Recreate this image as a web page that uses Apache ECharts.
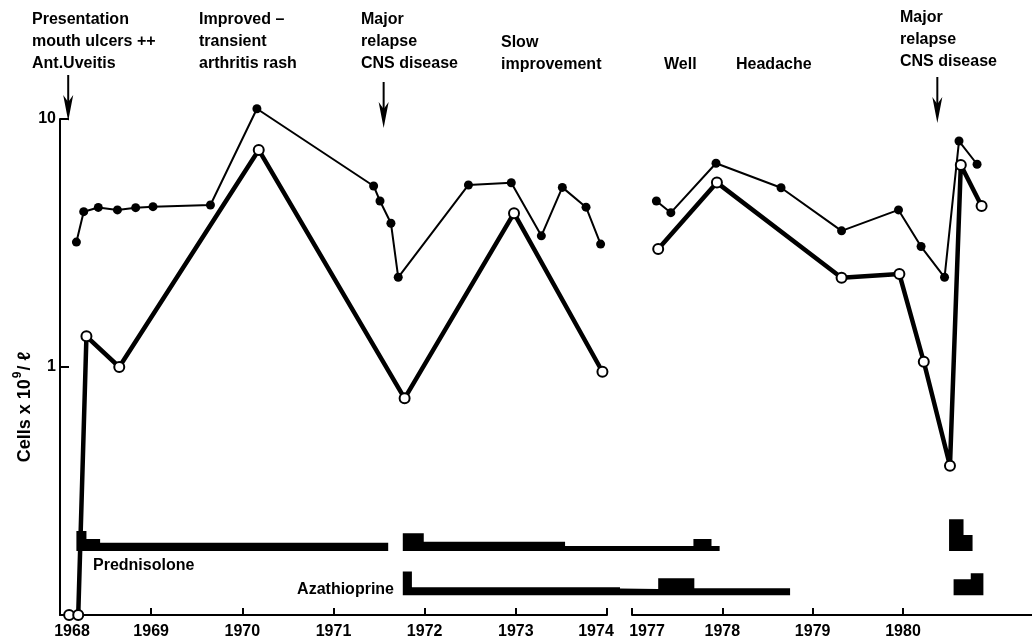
<!DOCTYPE html>
<html><head><meta charset="utf-8">
<script src="https://cdn.jsdelivr.net/npm/echarts@6/dist/echarts.min.js"></script>
<style>html,body{margin:0;padding:0;background:#fff}#c{width:1032px;height:640px}</style>
</head><body><div id="c"></div>
<script>
// ---------- data ----------
const yearLabelsEarly = [1968, 1969, 1970, 1971, 1972, 1973, 1974];
const yearTicksEarly = [1969, 1970, 1971, 1972, 1973, 1974];
const yearLabelsLate = [1977, 1978, 1979, 1980];
const yTickLabels = [1, 10];

// filled circles, thin line (cells x 10^9 / l)
const filledEarly = [[1968.18,3.19],[1968.26,4.23],[1968.42,4.40],[1968.63,4.30],[1968.83,4.39],[1969.02,4.43],[1969.65,4.50],[1970.16,11.0],[1971.44,5.37],[1971.51,4.67],[1971.63,3.80],[1971.71,2.30],[1972.48,5.42],[1972.95,5.53],[1973.28,3.38],[1973.51,5.30],[1973.77,4.41],[1973.93,3.13]];
const filledLate = [[1977.27,4.67],[1977.43,4.19],[1977.93,6.63],[1978.65,5.28],[1979.32,3.54],[1979.95,4.30],[1980.20,3.06],[1980.46,2.30],[1980.62,8.15],[1980.82,6.57]];
// open circles, thick line
const openEarly = [[1968.10,0.1],[1968.20,0.1],[1968.29,1.33],[1968.65,1.00],[1970.18,7.50],[1971.78,0.748],[1972.98,4.17],[1973.95,0.957]];
const openLate = [[1977.29,2.99],[1977.94,5.54],[1979.32,2.29],[1979.96,2.37],[1980.23,1.05],[1980.52,0.40],[1980.64,6.52],[1980.87,4.46]];

// treatment doses (relative units), step profiles
const prednisolone = [[1968.18,20],[1968.29,12],[1968.44,8.3],[1971.60,0],[1971.76,17.7],[1971.99,9.3],[1973.54,5],[1977.68,12],[1977.88,5],[1977.97,0],[1980.51,31.7],[1980.67,16],[1980.77,0]];
const azathioprine = [[1971.76,24],[1971.86,8.3],[1975.5,6.5],[1977.29,17.2],[1977.69,7.2],[1978.75,0],[1980.56,16.2],[1980.75,22.2],[1980.89,0]];

// clinical events
const eventTexts = [
  'Presentation\nmouth ulcers ++\nAnt.Uveitis',
  'Improved \u2013\ntransient\narthritis rash',
  'Major\nrelapse\nCNS disease',
  'Slow\nimprovement',
  'Well',
  'Headache',
  'Major\nrelapse\nCNS disease'
];
const arrowDates = [[1968.09, 0], [1971.55, 0], [1980.38, 1]]; // [year, axis segment]

// ---------- layout ----------
const FONT = '"Liberation Sans", Arial, Helvetica, sans-serif';
const W = 1032, H = 640;
const plotTop = 119, plotBottom = 615;
const earlyLeft = 60, earlyRight = 607;
const lateLeft = 632, lateTickPx = 271; // 1977 -> 1980 spans 271 px
const gapMid = 620;
const pxYearEarly = (earlyRight - earlyLeft) / 6;
const pxYearLate = lateTickPx / 3;
const lateMax = 1977 + (W - lateLeft) / pxYearLate;
const laneEarlyMax = 1968 + (gapMid - earlyLeft) / pxYearEarly;
const laneLateMin = 1977 - (lateLeft - gapMid) / pxYearLate;
const laneH = 40;
const prednBase = 551, azaBase = 595.5;

const labelFont = {fontFamily: FONT, fontWeight: 'bold', fontSize: 16, color: '#000'};
// edge labels are nudged away from the axis break / y axis
const labelShift = {1968: [0, 0, 0, 24], 1974: [0, 22, 0, 0], 1977: [0, 0, 0, 30]};

function mainX(gridIndex, min, max, labels, ticks) {
  const rich = {};
  Object.keys(labelShift).forEach(k => { rich['p' + k] = Object.assign({padding: labelShift[k]}, labelFont); });
  return {
    type: 'value', gridIndex, min, max,
    axisLine: {show: true, onZero: false, lineStyle: {color: '#000', width: 2}},
    axisTick: {show: true, inside: true, length: 7, lineStyle: {color: '#000', width: 2}, customValues: ticks},
    axisLabel: Object.assign({margin: 9, customValues: labels,
      formatter: v => (labelShift[v] ? '{p' + v + '|' + v + '}' : String(v)),
      rich}, labelFont),
    splitLine: {show: false}
  };
}
function hiddenX(gridIndex, min, max) {
  return {type: 'value', gridIndex, min, max, show: false, splitLine: {show: false}};
}

const option = {
  animation: false,
  backgroundColor: '#fff',
  grid: [
    {left: earlyLeft, top: plotTop, width: earlyRight - earlyLeft, height: plotBottom - plotTop},
    {left: lateLeft, top: plotTop, right: 0, height: plotBottom - plotTop},
    {left: earlyLeft, width: gapMid - earlyLeft, top: prednBase - laneH, height: laneH},
    {left: gapMid, right: 0, top: prednBase - laneH, height: laneH},
    {left: earlyLeft, width: gapMid - earlyLeft, top: azaBase - laneH, height: laneH},
    {left: gapMid, right: 0, top: azaBase - laneH, height: laneH}
  ],
  xAxis: [
    mainX(0, 1968, 1974, yearLabelsEarly, yearTicksEarly),
    mainX(1, 1977, lateMax, yearLabelsLate, yearLabelsLate),
    hiddenX(2, 1968, laneEarlyMax),
    hiddenX(3, laneLateMin, lateMax),
    hiddenX(4, 1968, laneEarlyMax),
    hiddenX(5, laneLateMin, lateMax)
  ],
  yAxis: [
    {type: 'log', logBase: 10, gridIndex: 0, min: 0.1, max: 10,
     axisLine: {show: true, lineStyle: {color: '#000', width: 2}},
     axisTick: {show: true, inside: true, length: 9, lineStyle: {color: '#000', width: 2}},
     axisLabel: Object.assign({margin: 4, formatter: v => (yTickLabels.some(t => Math.abs(t - v) < 1e-6) ? String(Math.round(v)) : '')}, labelFont),
     splitLine: {show: false}},
    {type: 'log', logBase: 10, gridIndex: 1, min: 0.1, max: 10, show: false, splitLine: {show: false}},
    {type: 'value', gridIndex: 2, min: 0, max: laneH, show: false},
    {type: 'value', gridIndex: 3, min: 0, max: laneH, show: false},
    {type: 'value', gridIndex: 4, min: 0, max: laneH, show: false},
    {type: 'value', gridIndex: 5, min: 0, max: laneH, show: false}
  ],
  series: []
};

function laneSeries(data, idx) {
  return {type: 'line', step: 'end', data, xAxisIndex: idx, yAxisIndex: idx, symbol: 'none',
    lineStyle: {width: 0, color: '#000'}, areaStyle: {color: '#000', opacity: 1}, silent: true};
}
function thinSeries(data, idx) {
  return {type: 'line', data, xAxisIndex: idx, yAxisIndex: idx, clip: false, z: 3,
    symbol: 'circle', symbolSize: 9, lineStyle: {color: '#000', width: 2}, itemStyle: {color: '#000'}};
}
function thickSeries(data, idx) {
  return {type: 'line', data, xAxisIndex: idx, yAxisIndex: idx, clip: false, z: 4,
    symbol: 'circle', symbolSize: 10, showAllSymbol: true,
    lineStyle: {color: '#000', width: 4.5},
    itemStyle: {color: '#fff', borderColor: '#000', borderWidth: 2}};
}
option.series.push(
  laneSeries(prednisolone, 2), laneSeries(prednisolone, 3),
  laneSeries(azathioprine, 4), laneSeries(azathioprine, 5),
  thinSeries(filledEarly, 0), thinSeries(filledLate, 1),
  thickSeries(openEarly, 0), thickSeries(openLate, 1)
);

const chart = echarts.init(document.getElementById('c'), null, {renderer: 'canvas', width: W, height: H});
chart.setOption(option);

// ---------- annotations ----------
const textPos = [[32, 9], [199, 9], [361, 9], [501, 32], [664, 54], [736, 54], [900, 7]];
const arrowY = [[75, 121], [82, 128], [77, 123]];
const graphics = [];
eventTexts.forEach((t, i) => {
  graphics.push({type: 'text', x: textPos[i][0], y: textPos[i][1],
    style: {text: t, fill: '#000', font: 'bold 16px ' + FONT, lineHeight: 22, verticalAlign: 'top', align: 'left'}});
});
arrowDates.forEach((a, i) => {
  const x = chart.convertToPixel({xAxisIndex: a[1]}, a[0]);
  const y0 = arrowY[i][0], y1 = arrowY[i][1];
  graphics.push({type: 'line', shape: {x1: x, y1: y0, x2: x, y2: y1 - 10}, style: {stroke: '#000', lineWidth: 2}});
  graphics.push({type: 'polygon', shape: {points: [[x - 5, y1 - 26], [x, y1 - 19], [x + 5, y1 - 26], [x, y1]]}, style: {fill: '#000'}});
});
graphics.push({type: 'text', x: 93, y: 566,
  style: {text: 'Prednisolone', fill: '#000', font: 'bold 16px ' + FONT, verticalAlign: 'middle', align: 'left'}});
graphics.push({type: 'text', x: 394, y: 590,
  style: {text: 'Azathioprine', fill: '#000', font: 'bold 16px ' + FONT, verticalAlign: 'middle', align: 'right'}});
graphics.push({type: 'text', x: 23, y: 407, rotation: Math.PI / 2,
  style: {text: '{a|Cells x 10}{s|9}{a|/ \u2113}', align: 'center', verticalAlign: 'middle',
    rich: {a: {fontFamily: FONT, fontWeight: 'bold', fontSize: 18, lineHeight: 22, verticalAlign: 'bottom'},
           s: {fontFamily: FONT, fontWeight: 'bold', fontSize: 12, lineHeight: 22, verticalAlign: 'top', padding: [0, 1, 0, 1]}}}});
chart.setOption({graphic: graphics});
</script>
</body></html>
